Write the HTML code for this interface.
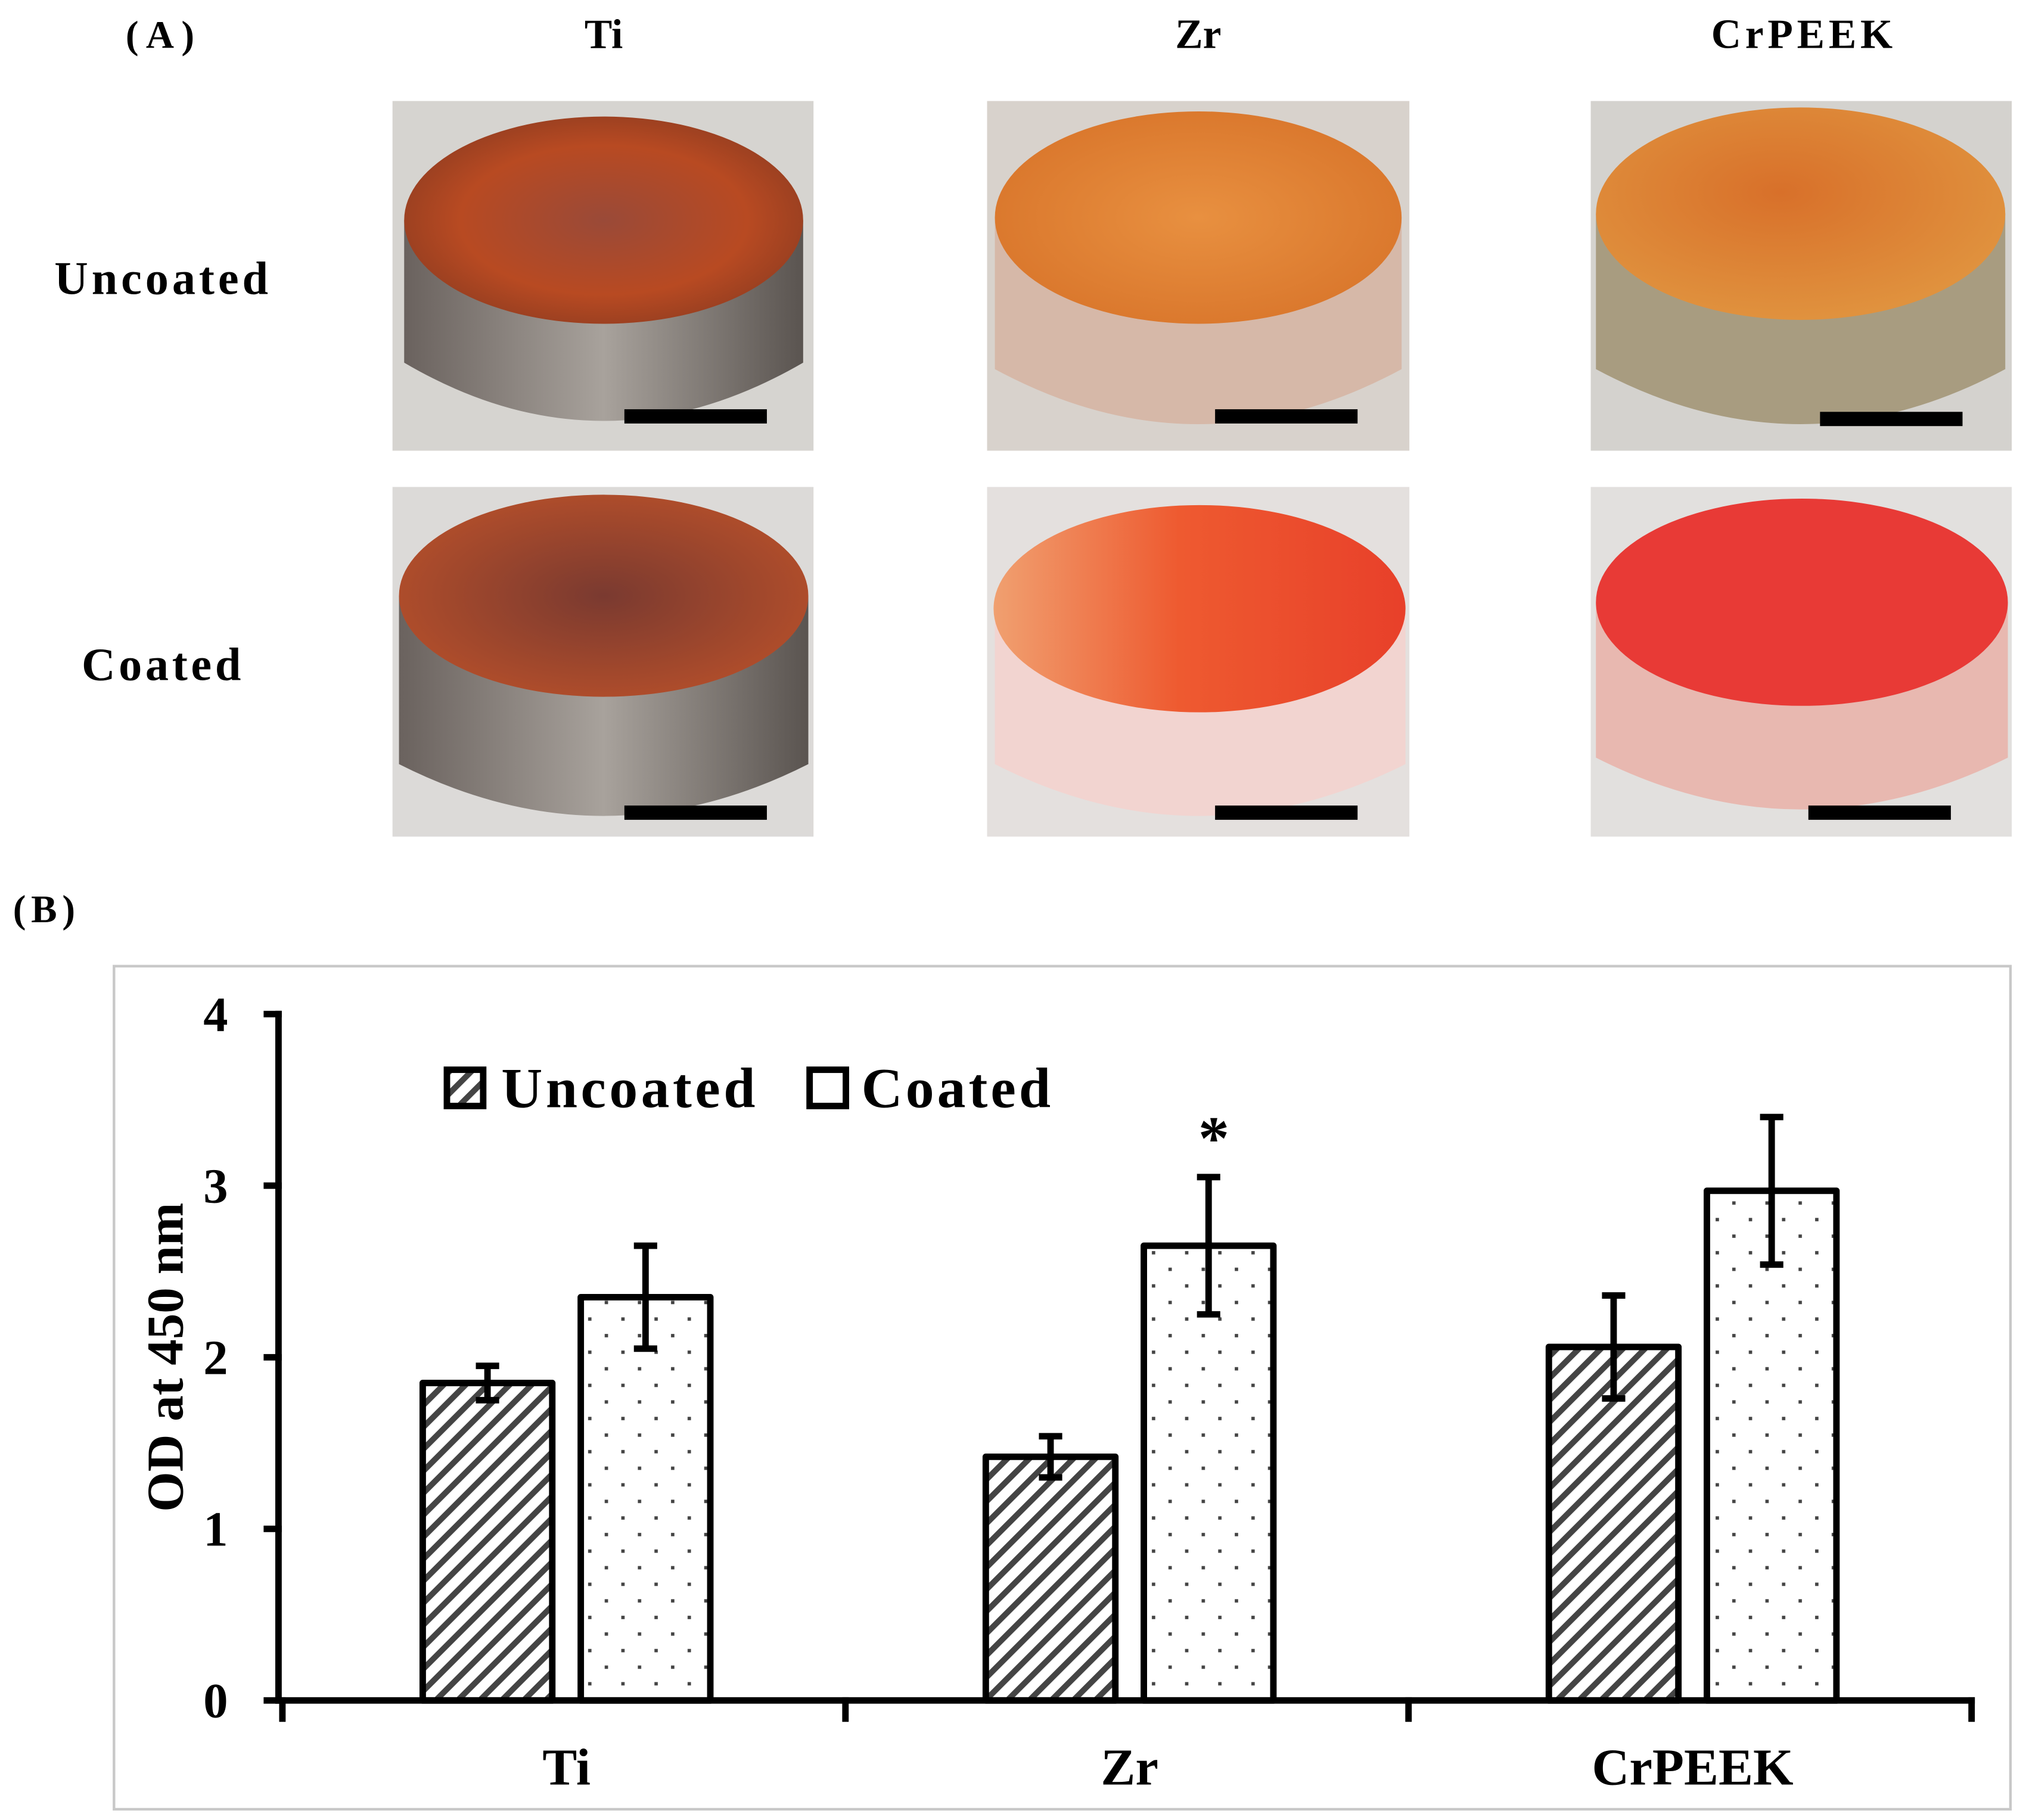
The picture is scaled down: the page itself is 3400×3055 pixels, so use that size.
<!DOCTYPE html>
<html><head><meta charset="utf-8"><style>
html,body{margin:0;padding:0;background:#fff}
svg{display:block}
text{font-family:"Liberation Serif",serif;font-weight:bold;fill:#000}
</style></head><body>
<svg width="3400" height="3055" viewBox="0 0 1564 1405.3" preserveAspectRatio="none">
<defs>
<pattern id="hatch" patternUnits="userSpaceOnUse" width="12" height="12" patternTransform="rotate(45)">
<rect width="12" height="12" fill="#fff"/><rect width="4.5" height="12" fill="#444"/></pattern>
<pattern id="dots" patternUnits="userSpaceOnUse" width="25.6" height="25.6">
<rect width="25.6" height="25.6" fill="#fff"/><rect x="6" y="6" width="2.6" height="2.6" fill="#444"/><rect x="18.8" y="18.8" width="2.6" height="2.6" fill="#444"/></pattern>
<radialGradient id="gTi1" cx="0.5" cy="0.5" r="0.6"><stop offset="0" stop-color="#9a4a38"/><stop offset="0.6" stop-color="#b84a22"/><stop offset="1" stop-color="#8a3a20"/></radialGradient>
<radialGradient id="gOr" cx="0.5" cy="0.5" r="0.6"><stop offset="0" stop-color="#e89040"/><stop offset="1" stop-color="#d8742a"/></radialGradient>
<radialGradient id="gCr1" cx="0.45" cy="0.4" r="0.6"><stop offset="0" stop-color="#d8702a"/><stop offset="1" stop-color="#e0923e"/></radialGradient>
<radialGradient id="gTi2" cx="0.5" cy="0.5" r="0.6"><stop offset="0" stop-color="#7a3a30"/><stop offset="1" stop-color="#b8502a"/></radialGradient>
<linearGradient id="gZr2" x1="0" x2="1"><stop offset="0" stop-color="#f0a070"/><stop offset="0.45" stop-color="#ee5a30"/><stop offset="1" stop-color="#e8402a"/></linearGradient>
<linearGradient id="metal" x1="0" x2="1"><stop offset="0" stop-color="#6a625e"/><stop offset="0.5" stop-color="#a8a29c"/><stop offset="1" stop-color="#5a5450"/></linearGradient>
</defs>

<text x="97" y="37" font-size="30" textLength="53">(A)</text>
<text x="466" y="37" font-size="32" text-anchor="middle">Ti</text>
<text x="925" y="37" font-size="32" text-anchor="middle">Zr</text>
<text x="1321" y="37" font-size="32" textLength="140">CrPEEK</text>
<text x="42" y="227" font-size="36" textLength="165">Uncoated</text>
<text x="63" y="525" font-size="36" textLength="123">Coated</text>

<g>
<rect x="303" y="78" width="325" height="270" fill="#d6d4d0"/>
<path d="M312 170 L312 280 Q465 370 620 280 L620 170 Z" fill="url(#metal)"/>
<ellipse cx="466" cy="170" rx="154" ry="80" fill="url(#gTi1)"/>
<rect x="482" y="316" width="110" height="11" fill="#000"/></g>
<g>
<rect x="762" y="78" width="326" height="270" fill="#d8d2cc"/>
<path d="M768 168 L768 285 Q925 370 1082 285 L1082 168 Z" fill="#d6b8a8"/>
<ellipse cx="925" cy="168" rx="157" ry="82" fill="url(#gOr)"/>
<rect x="938" y="316" width="110" height="11" fill="#000"/></g>
<g>
<rect x="1228" y="78" width="325" height="270" fill="#d4d2ce"/>
<path d="M1232 165 L1232 285 Q1390 370 1548 285 L1548 165 Z" fill="#a89c80"/>
<ellipse cx="1390" cy="165" rx="158" ry="82" fill="url(#gCr1)"/>
<rect x="1405" y="318" width="110" height="11" fill="#000"/></g>
<g>
<rect x="303" y="376" width="325" height="270" fill="#dcdad8"/>
<path d="M308 460 L308 590 Q466 670 624 590 L624 460 Z" fill="url(#metal)"/>
<ellipse cx="466" cy="460" rx="158" ry="78" fill="url(#gTi2)"/>
<rect x="482" y="622" width="110" height="11" fill="#000"/></g>
<g>
<rect x="762" y="376" width="326" height="270" fill="#e4e0de"/>
<path d="M768 470 L768 590 Q925 670 1085 590 L1085 470 Z" fill="#f2d4d0"/>
<ellipse cx="926" cy="470" rx="159" ry="80" fill="url(#gZr2)"/>
<rect x="938" y="622" width="110" height="11" fill="#000"/></g>
<g>
<rect x="1228" y="376" width="325" height="270" fill="#e2e0de"/>
<path d="M1232 465 L1232 585 Q1390 665 1550 585 L1550 465 Z" fill="#e8b8b0"/>
<ellipse cx="1391" cy="465" rx="159" ry="80" fill="#e83a36"/>
<rect x="1396" y="622" width="110" height="11" fill="#000"/></g>

<text x="10" y="712" font-size="30" textLength="48">(B)</text>
<rect x="88" y="746" width="1464" height="651" fill="#fff" stroke="#c8c8c8" stroke-width="2"/>
<g id="chart"></g>
</svg>
<script>
const categories = ["Ti", "Zr", "CrPEEK"];
const uncoated = [1.85, 1.42, 2.06];
const coated = [2.35, 2.65, 2.97];
const uncoatedErr = [0.1, 0.12, 0.3];
const coatedErr = [0.3, 0.4, 0.43];
const yTicks = [0, 1, 2, 3, 4];

const NS = "http://www.w3.org/2000/svg";
const g = document.getElementById("chart");
const x0 = 218, x1 = 1522, yBase = 1313, yTop = 783, yMax = 4;
const yScale = v => yBase - v / yMax * (yBase - yTop);
const groupW = (x1 - x0) / categories.length;
const barW = 100, gap = 22;
function mk(tag, attrs, parent) {
  const e = document.createElementNS(NS, tag);
  for (const k in attrs) e.setAttribute(k, attrs[k]);
  (parent || g).appendChild(e);
  return e;
}
function bar(cx, v, err, fill, name) {
  const y = yScale(v);
  const r = mk("rect", {x: cx - barW / 2, y: y, width: barW, height: yBase - y, fill: fill, stroke: "#000", "stroke-width": 5, "stroke-linejoin": "round"});
  
  
  const eg = mk("g", {stroke: "#000", "stroke-width": 5});
  
  
  const yh = yScale(v + err), yl = yScale(v - err);
  mk("line", {x1: cx, x2: cx, y1: yh, y2: yl}, eg);
  mk("line", {x1: cx - 9, x2: cx + 9, y1: yh, y2: yh}, eg);
  mk("line", {x1: cx - 9, x2: cx + 9, y1: yl, y2: yl}, eg);
}
categories.forEach((c, i) => {
  const cx = x0 + groupW * (i + 0.5);
  bar(cx - gap / 2 - barW / 2 + 2, uncoated[i], uncoatedErr[i], "url(#hatch)", "bar-" + c.toLowerCase() + "-uncoated");
  bar(cx + gap / 2 + barW / 2 + 2, coated[i], coatedErr[i], "url(#dots)", "bar-" + c.toLowerCase() + "-coated");
  const t = mk("text", {x: cx + 2, y: 1378, "font-size": 40, "text-anchor": "middle"});
  t.textContent = c;
  
  
});
const ax = mk("g", {stroke: "#000", "stroke-width": 5, "stroke-linecap": "square"});


mk("line", {x1: x0 - 3, x2: x0 - 3, y1: yTop, y2: yBase}, ax);
mk("line", {x1: x0 - 3, x2: x1, y1: yBase, y2: yBase}, ax);
for (let i = 0; i <= categories.length; i++) {
  const x = x0 + groupW * i;
  mk("line", {x1: x, x2: x, y1: yBase, y2: yBase + 14}, ax);
}
yTicks.forEach(v => {
  const y = yScale(v);
  mk("line", {x1: x0 - 12, x2: x0 - 3, y1: y, y2: y}, ax);
  const t = mk("text", {x: 176, y: y + 13, "font-size": 38, "text-anchor": "end"});
  t.textContent = v;
  
  
});
const yt = mk("text", {x: 0, y: 0, "font-size": 40, "text-anchor": "middle", transform: "translate(141,1048) rotate(-90)"});
yt.textContent = "OD at 450 nm";


const st = mk("text", {x: 937, y: 895, "font-size": 48, "text-anchor": "middle"});
st.textContent = "*";


const lg = mk("g", {});


const l1 = mk("rect", {x: 345, y: 826, width: 28, height: 28, fill: "url(#hatch)", stroke: "#000", "stroke-width": 5}, lg);


const lt1 = mk("text", {x: 387, y: 855, "font-size": 44, textLength: 196}, lg);
lt1.textContent = "Uncoated";


const l2 = mk("rect", {x: 625, y: 826, width: 28, height: 28, fill: "#fff", stroke: "#000", "stroke-width": 5}, lg);


const lt2 = mk("text", {x: 665, y: 855, "font-size": 44, textLength: 146}, lg);
lt2.textContent = "Coated";


</script>
</body></html>
